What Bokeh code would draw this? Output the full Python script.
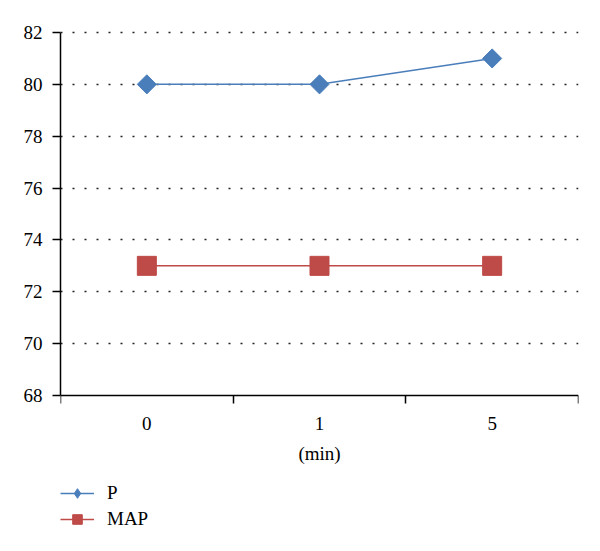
import math
from bokeh.plotting import figure
from bokeh.models import FixedTicker, Legend, LegendItem, Range1d
from bokeh.embed import file_html
from bokeh.resources import INLINE

categories = ["0", "1", "5"]
p_values = [80, 80, 81]
map_values = [73, 73, 73]
y_ticks = [68, 70, 72, 74, 76, 78, 80, 82]

xs = [i + 0.5 for i in range(len(categories))]

FONT = "Liberation Serif"

# frame extends below the y=68 baseline to leave room for the legend,
# and a little above 82 so the top dotted line is fully drawn
Y_MIN, Y_MAX = 68, 82
TOP_PAD_PX = 3
FRAME_TOP, FRAME_BOTTOM_PAD = 32 - TOP_PAD_PX, 3
H = 535
px_per_unit = 363 / (Y_MAX - Y_MIN)
frame_h = H - FRAME_TOP - FRAME_BOTTOM_PAD
y_high = Y_MAX + TOP_PAD_PX / px_per_unit
y_low = y_high - frame_h / px_per_unit

p = figure(width=584, height=H, output_backend="svg", toolbar_location=None,
           x_range=Range1d(0, len(categories)), y_range=Range1d(y_low, y_high),
           min_border_left=60, min_border_right=6, min_border_top=FRAME_TOP,
           min_border_bottom=FRAME_BOTTOM_PAD)
p.outline_line_color = None
p.background_fill_color = "white"

# x axis drawn at y = 68
p.xaxis.fixed_location = Y_MIN
p.xaxis.ticker = FixedTicker(ticks=xs, minor_ticks=list(range(len(categories) + 1)))
p.xaxis.major_label_overrides = {x: c for x, c in zip(xs, categories)}
p.xaxis.major_tick_line_color = None
p.xaxis.major_tick_out = 0
p.xaxis.major_tick_in = 0
p.xaxis.minor_tick_line_color = "black"
p.xaxis.minor_tick_out = 8
p.xaxis.minor_tick_in = 0
p.xaxis.minor_tick_line_width = 1.5
p.xaxis.axis_line_color = "black"
p.xaxis.axis_line_width = 1.5
p.xaxis.major_label_text_font = FONT
p.xaxis.major_label_text_font_size = "19px"
p.xaxis.major_label_text_color = "black"
p.xaxis.major_label_standoff = 13
p.xaxis.axis_label = "(min)"
p.xaxis.axis_label_text_font = FONT
p.xaxis.axis_label_text_font_style = "normal"
p.xaxis.axis_label_text_font_size = "19px"
p.xaxis.axis_label_text_color = "black"
p.xaxis.axis_label_standoff = 10

# y axis
p.yaxis.bounds = (Y_MIN, Y_MAX)
p.yaxis.ticker = FixedTicker(ticks=y_ticks, minor_ticks=[])
p.yaxis.axis_line_color = "black"
p.yaxis.axis_line_width = 1.5
p.yaxis.major_tick_line_color = "black"
p.yaxis.major_tick_line_width = 1.5
p.yaxis.major_tick_out = 8
p.yaxis.major_tick_in = 0
p.yaxis.major_label_text_font = FONT
p.yaxis.major_label_text_font_size = "19px"
p.yaxis.major_label_text_color = "black"
p.yaxis.major_label_standoff = 10

p.xgrid.grid_line_color = None
p.ygrid.ticker = FixedTicker(ticks=y_ticks[1:])
p.ygrid.grid_line_color = "#222222"
p.ygrid.grid_line_width = 1.5
p.ygrid.grid_line_dash = "2 10"

BLUE = "#4A7EBB"
RED = "#BE4B48"

l1 = p.line(xs, p_values, line_color=BLUE, line_width=1.5)
# small diamond hidden under the big one; used for the legend glyph
d1 = p.scatter(xs, p_values, marker="diamond", size=12, fill_color=BLUE, line_color=BLUE)
m1 = p.scatter(xs, p_values, marker="square", angle=math.pi / 4, size=13.5,
               fill_color=BLUE, line_color=BLUE)
l2 = p.line(xs, map_values, line_color=RED, line_width=1.5)
m2 = p.scatter(xs, map_values, marker="square", size=19, fill_color=RED, line_color=RED)

legend = Legend(items=[LegendItem(label="P", renderers=[l1, d1]),
                       LegendItem(label="MAP", renderers=[l2, m2])],
                location=(0, 1), orientation="vertical",
                label_text_font=FONT, label_text_font_size="19px", label_text_color="black",
                glyph_width=34, glyph_height=24, spacing=2, padding=0, margin=0,
                border_line_color=None, background_fill_alpha=0, label_standoff=13)
p.add_layout(legend, "center")

open("out.html", "w").write(file_html(p, INLINE))
